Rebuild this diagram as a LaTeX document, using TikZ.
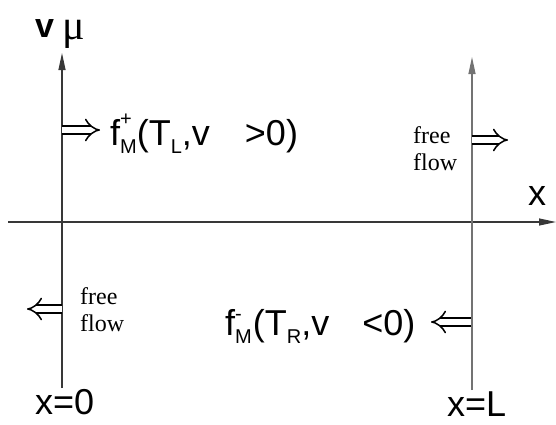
\documentclass[tikz,border=0pt]{standalone}
\usepackage{fontspec}
\setmainfont{Liberation Sans}
\newfontfamily\timesfont{Liberation Serif}
\usetikzlibrary{arrows.meta}
\newcommand{\subtxt}[1]{{\fontsize{20}{20}\selectfont #1}}

\begin{document}
\begin{tikzpicture}[
  x=1pt,y=-1pt,
  axis/.style={draw=black!78,line width=1.2pt,-{Triangle[length=17pt,width=7pt]}},
  flux/.style={draw=black,line width=1.5pt,double,double distance=6.5pt,-{Implies[scale=1.25]}},
  lbl/.style={inner sep=0pt,font=\fontsize{36}{36}\selectfont},
  note/.style={inner sep=0pt,align=left,font=\timesfont\fontsize{24}{27}\selectfont}
]
  \useasboundingbox (0,0) rectangle (556,424);
  \coordinate (xstart) at (8,222);
  \coordinate (xend) at (556,222);
  \coordinate (lbot) at (62,388);
  \coordinate (ltop) at (62,53);
  \coordinate (rbot) at (472,390);
  \coordinate (rtop) at (472,57);
  \draw[axis] (xstart) -- (xend);
  \draw[axis] (lbot) -- (ltop);
  \draw[axis,draw=black!55] (rbot) -- (rtop);
  \node[inner sep=0pt,anchor=base west,font=\fontsize{34}{34}\selectfont\bfseries] (vlabel) at (35,37) {v};
  \node[inner sep=0pt,anchor=base west,font=\timesfont\fontsize{42}{42}\selectfont] (mulabel) at (62,39) {μ};
  \node[lbl,anchor=base west] (xlabel) at (528,205) {x};
  \node[lbl,anchor=base west] (xzero) at (35,414) {x=0};
  \node[lbl,anchor=base west] (xlen) at (447,416) {x=L};
  \node[lbl,anchor=base west] (fplus) at (110,145)
    {f\makebox[0pt][l]{\raisebox{20pt}{\subtxt{+}}}\raisebox{-8pt}{\subtxt{M}}(T\raisebox{-8pt}{\subtxt{L}},v\hspace{35pt}>0)};
  \node[lbl,anchor=base west] (fminus) at (225,335)
    {f\makebox[0pt][l]{\raisebox{15pt}{\subtxt{-}}}\raisebox{-8pt}{\subtxt{M}}\kern1pt(T\raisebox{-8pt}{\subtxt{R}},v\hspace{33pt}<0)};
  \node[note,anchor=north west] (freeR) at (413,126) {free\\flow};
  \node[note,anchor=north west] (freeL) at (80,287) {free\\flow};
  \coordinate (a1s) at (62,130);
  \coordinate (a1e) at (100,130);
  \coordinate (a2s) at (472,140);
  \coordinate (a2e) at (508,140);
  \coordinate (a3s) at (62,309);
  \coordinate (a3e) at (27,309);
  \coordinate (a4s) at (471,322);
  \coordinate (a4e) at (431,322);
  \draw[flux] (a1s) -- (a1e);
  \draw[flux] (a2s) -- (a2e);
  \draw[flux] (a3s) -- (a3e);
  \draw[flux] (a4s) -- (a4e);
\end{tikzpicture}
\end{document}
